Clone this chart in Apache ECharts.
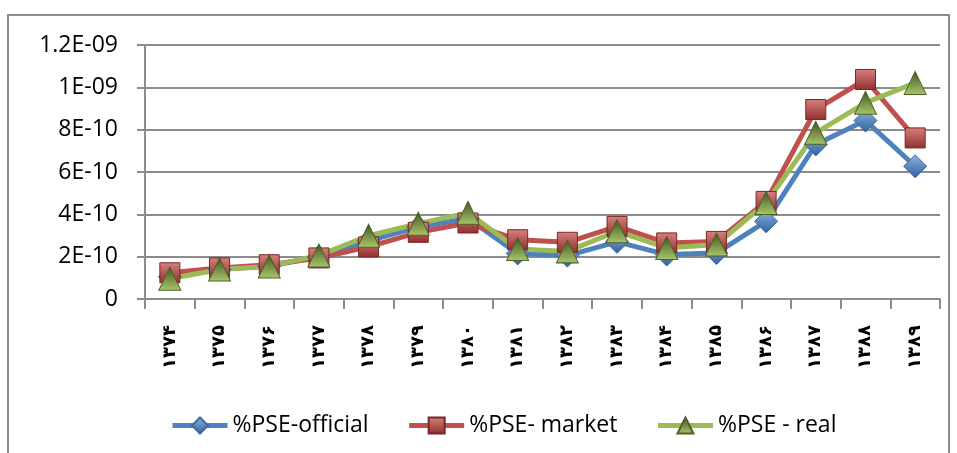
<!DOCTYPE html>
<html>
<head>
<meta charset="utf-8">
<script src="https://cdn.jsdelivr.net/npm/echarts@6/dist/echarts.min.js"></script>
<style>
  html,body{margin:0;padding:0;background:#fff;}
  #main{width:957px;height:453px;}
</style>
</head>
<body>
<div id="main"></div>
<script>
var years = ['۱۳۷۴','۱۳۷۵','۱۳۷۶','۱۳۷۷','۱۳۷۸','۱۳۷۹','۱۳۸۰','۱۳۸۱','۱۳۸۲','۱۳۸۳','۱۳۸۴','۱۳۸۵','۱۳۸۶','۱۳۸۷','۱۳۸۸','۱۳۸۹'];
var official = [1.05e-10,1.40e-10,1.55e-10,2.00e-10,2.75e-10,3.40e-10,3.80e-10,2.15e-10,2.05e-10,2.70e-10,2.10e-10,2.17e-10,3.67e-10,7.30e-10,8.43e-10,6.27e-10];
var market   = [1.24e-10,1.47e-10,1.62e-10,1.94e-10,2.46e-10,3.15e-10,3.59e-10,2.80e-10,2.68e-10,3.43e-10,2.65e-10,2.72e-10,4.61e-10,8.95e-10,10.37e-10,7.61e-10];
var real     = [0.96e-10,1.39e-10,1.54e-10,2.06e-10,2.99e-10,3.56e-10,4.07e-10,2.36e-10,2.25e-10,3.20e-10,2.41e-10,2.57e-10,4.54e-10,7.85e-10,9.27e-10,10.21e-10];
var yLabels  = ['0','2E-10','4E-10','6E-10','8E-10','1E-09','1.2E-09'];

var myChart = echarts.init(document.getElementById('main'));

function grad(c1, c2){
    return new echarts.graphic.LinearGradient(0, 0, 0, 1, [
        {offset: 0, color: c1},
        {offset: 1, color: c2}
    ]);
}

var option = {
    animation: false,
    textStyle: {fontFamily: 'Open Sans'},
    graphic: [{
        type: 'rect',
        shape: {x: 8, y: 15, width: 941, height: 450},
        style: {fill: 'none', stroke: '#8c8c8c', lineWidth: 2},
        silent: true
    }],
    grid: {left: 145, right: 17, top: 45, bottom: 154},
    legend: {
        left: 165,
        top: 409,
        itemWidth: 55,
        itemHeight: 20,
        itemGap: 38,
        lineStyle: {width: 5},
        textStyle: {fontSize: 23, color: '#000', fontFamily: 'Open Sans'},
        data: ['%PSE-official', '%PSE- market', '%PSE - real']
    },
    xAxis: {
        type: 'category',
        data: years,
        boundaryGap: true,
        axisLine: {lineStyle: {color: '#8c8c8c', width: 2}},
        axisTick: {show: true, length: 10, lineStyle: {color: '#8c8c8c', width: 2}},
        axisLabel: {
            rotate: 90,
            margin: 26,
            interval: 0,
            fontSize: 18,
            fontWeight: 'bold',
            color: '#000',
            fontFamily: 'DejaVu Sans'
        }
    },
    yAxis: {
        type: 'value',
        min: 0,
        max: 1.2e-9,
        interval: 2e-10,
        axisLine: {show: true, lineStyle: {color: '#8c8c8c', width: 2}},
        axisTick: {show: true, length: 8, lineStyle: {color: '#8c8c8c', width: 2}},
        splitLine: {lineStyle: {color: '#8c8c8c', width: 2}},
        axisLabel: {
            margin: 27,
            fontSize: 23,
            color: '#000',
            formatter: function(v){
                return yLabels[Math.round(v / 2e-10)];
            }
        }
    },
    series: [{
        name: '%PSE-official',
        type: 'line',
        data: official,
        symbol: 'diamond',
        symbolSize: 23,
        lineStyle: {color: '#4f81bd', width: 5},
        itemStyle: {color: grad('#8fb4e3', '#2f5f98'), borderColor: '#3a6aa3', borderWidth: 1}
    }, {
        name: '%PSE- market',
        type: 'line',
        data: market,
        symbol: 'rect',
        symbolSize: 20,
        lineStyle: {color: '#c0504d', width: 5},
        itemStyle: {color: grad('#d9817e', '#8e2f2c'), borderColor: '#7a2624', borderWidth: 1}
    }, {
        name: '%PSE - real',
        type: 'line',
        data: real,
        symbol: 'triangle',
        symbolSize: [22, 23],
        lineStyle: {color: '#9bbb59', width: 5},
        itemStyle: {color: grad('#3f5220', '#a9c86a'), borderColor: '#4f6228', borderWidth: 1}
    }]
};

myChart.setOption(option);
</script>
</body>
</html>
